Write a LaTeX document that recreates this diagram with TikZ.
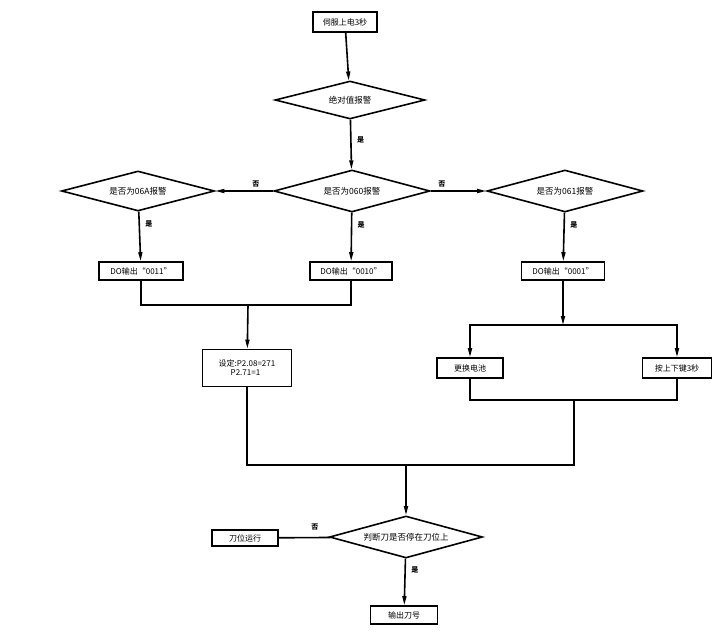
\documentclass[tikz,border=0pt]{standalone}
\usepackage{fontspec}
\setmainfont{Liberation Serif}
\newfontfamily\cjk{Noto Sans CJK SC}
\usetikzlibrary{shapes.geometric,arrows.meta}
\begin{document}
\begin{tikzpicture}[x=1pt,y=-1pt,line width=1.6pt,
  box/.style={draw,rectangle,inner sep=0pt,font=\cjk\fontsize{8}{9}\selectfont},
  dia/.style={draw,diamond,aspect=3.8,inner sep=0pt,font=\cjk\fontsize{8.5}{10}\selectfont},
  lab/.style={font=\cjk\bfseries\fontsize{7}{8}\selectfont},
  arr/.style={-{Triangle[length=9pt,width=4pt]}}]
\useasboundingbox (0,0) rectangle (720,643);
\node[box,minimum width=64pt,minimum height=20pt] (a) at (345,22) {伺服上电3秒};
\node[dia,minimum width=150pt,minimum height=38pt] (b) at (350,100) {绝对值报警};
\node[dia,minimum width=156pt,minimum height=42pt] (c) at (352,191) {是否为060报警};
\node[dia,minimum width=153pt,minimum height=40pt] (d) at (138,191) {是否为06A报警};
\node[dia,minimum width=156pt,minimum height=42pt] (e) at (565,191) {是否为061报警};
\node[box,minimum width=84pt,minimum height=18pt] (f) at (141,271) {DO输出“0011”};
\node[box,minimum width=82pt,minimum height=18pt] (g) at (351,271) {DO输出“0010”};
\node[box,minimum width=83pt,minimum height=18pt] (h) at (563,271) {DO输出“0001”};
\node[box,minimum width=89pt,minimum height=37pt,align=left] (i) at (247,368) {设定:P2.08=271\\\hspace*{1.5em}P2.71=1};
\node[box,minimum width=66pt,minimum height=20pt] (j) at (470,368) {更换电池};
\node[box,minimum width=69pt,minimum height=20pt] (k) at (677,368) {按上下键3秒};
\node[dia,minimum width=153pt,minimum height=42pt] (l) at (406,537) {判断刀是否停在刀位上};
\node[box,minimum width=66pt,minimum height=16pt] (m) at (245,538) {刀位运行};
\node[box,minimum width=67pt,minimum height=18pt] (n) at (404,615) {输出刀号};
\coordinate (p1) at (248,305);
\coordinate (p2) at (563,325);
\coordinate (p3) at (574,400);
\coordinate (p4) at (406,465);
\draw[arr] (a) -- (b);
\draw[arr] (b) -- node[lab,right=2pt,pos=0.4]{是} (c);
\draw[arr] (c) -- node[lab,above,pos=0.3]{否} (d);
\draw[arr] (c) -- node[lab,above,pos=0.2]{否} (e);
\draw[arr] (d) -- node[lab,right=2pt,pos=0.25]{是} (f);
\draw[arr] (c) -- node[lab,right=2pt,pos=0.25]{是} (g);
\draw[arr] (e) -- node[lab,right=2pt,pos=0.25]{是} (h);
\draw (f) |- (p1) -| (g);
\draw[arr] (p1) -- (i);
\draw[arr] (h) -- (p2);
\draw[arr] (p2) -| (j);
\draw[arr] (p2) -| (k);
\draw (j) |- (p3) -| (k);
\draw (i) |- (p4);
\draw (p3) |- (p4);
\draw[arr] (p4) -- (l);
\draw (l) -- node[lab,above=3pt,pos=0.3]{否} (m);
\draw[arr] (l) -- node[lab,right=2pt,pos=0.25]{是} (n);
\end{tikzpicture}
\end{document}
